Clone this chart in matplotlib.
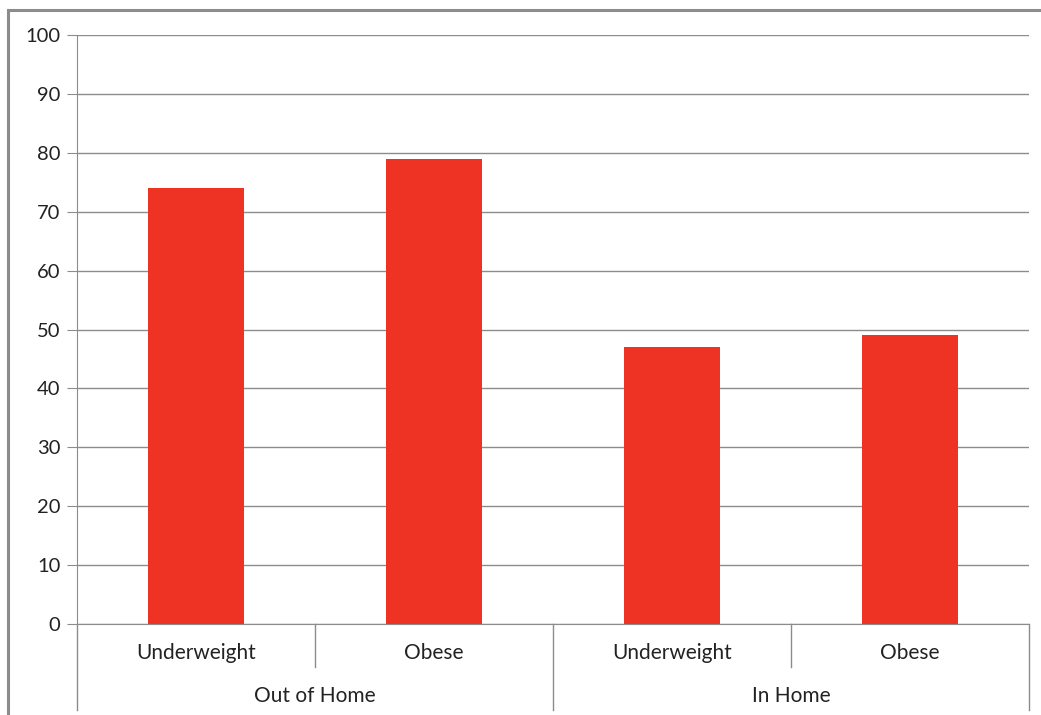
import matplotlib.pyplot as plt
import matplotlib.transforms as mtransforms
from matplotlib.patches import Rectangle

# data
groups = ['Out of Home', 'In Home']
categories = ['Underweight', 'Obese', 'Underweight', 'Obese']
values = [74, 79, 47, 49]

plt.rcParams['font.family'] = ['Lato', 'DejaVu Sans']

fig = plt.figure(figsize=(10.41, 7.15), dpi=100)
ax = fig.add_axes([0.074, 0.1273, 0.9145, 0.8237])

# outer chart frame
fig.patches.append(Rectangle((8 / 1041, -0.1), 1.2, 1 - 10 / 715 + 0.1,
                             transform=fig.transFigure, fill=False,
                             edgecolor='#8c8c8c', linewidth=2.2))

x = list(range(len(categories)))
ax.bar(x, values, width=0.4, color='#ee3224', zorder=3)

ax.set_xlim(-0.5, len(categories) - 0.5)
ax.set_ylim(0, 100)
ax.set_yticks(range(0, 101, 10))
ax.yaxis.grid(True, color='#8c8c8c', linewidth=1)
ax.set_xticks([])
for s in ['top', 'right']:
    ax.spines[s].set_visible(False)
ax.spines['left'].set_color('#8c8c8c')
ax.spines['bottom'].set_color('#8c8c8c')
ax.tick_params(axis='y', length=7, color='#8c8c8c', labelsize=14.5,
               labelcolor='#222222', pad=5)

# two-level category axis
trans = mtransforms.blended_transform_factory(ax.transData, ax.transAxes)
n_per_group = len(categories) // len(groups)
for i in range(len(categories) + 1):
    xs = i - 0.5
    low = -0.146 if i % n_per_group == 0 else -0.073
    ax.plot([xs, xs], [0, low], color='#8c8c8c', linewidth=1,
            transform=trans, clip_on=False)
for i, c in enumerate(categories):
    ax.text(i, -0.049, c, transform=trans, ha='center', va='center',
            fontsize=15, color='#222222')
for g, name in enumerate(groups):
    center = g * n_per_group + (n_per_group - 1) / 2
    ax.text(center, -0.122, name, transform=trans, ha='center', va='center',
            fontsize=15, color='#222222')

fig.savefig('out.png', dpi=100)
